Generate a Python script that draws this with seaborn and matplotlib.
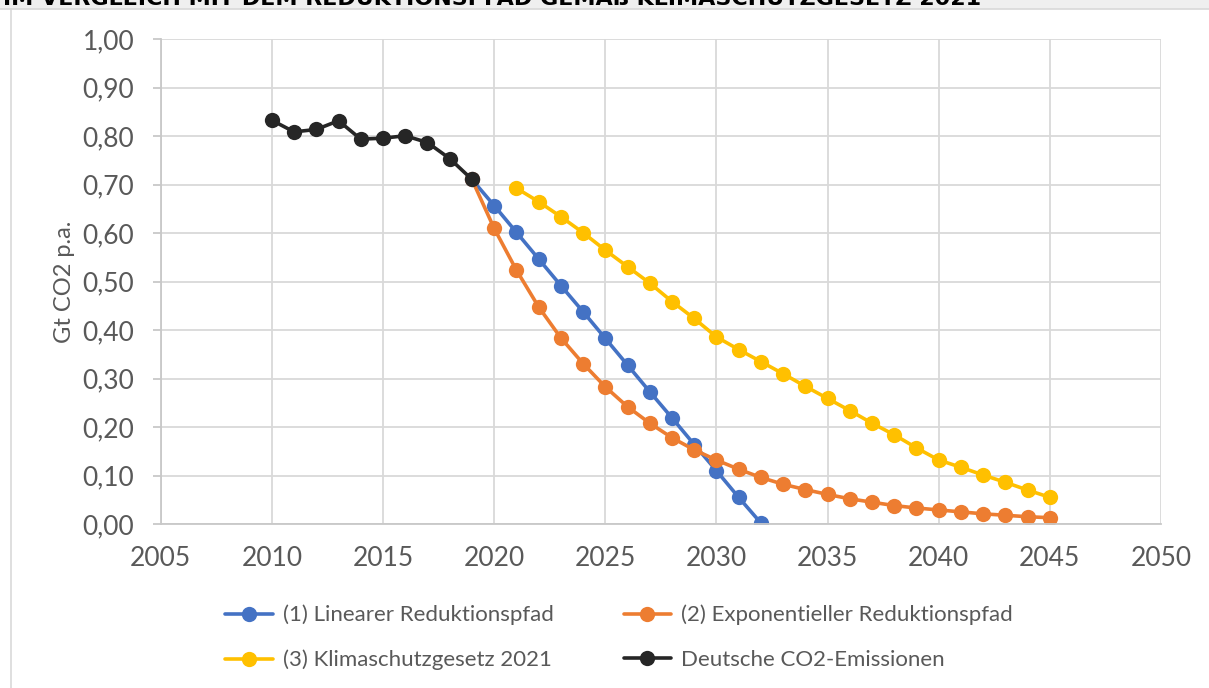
import numpy as np
import pandas as pd
import matplotlib
matplotlib.use("Agg")
import matplotlib.pyplot as plt
from matplotlib.lines import Line2D
from matplotlib.ticker import FuncFormatter, MultipleLocator
import seaborn as sns

# ==========================
# Data
# ==========================
years_hist = list(range(2010, 2020))
emissions_hist = [0.833, 0.809, 0.814, 0.832, 0.794, 0.796, 0.801, 0.787, 0.754, 0.711]

years_linear = list(range(2019, 2033))
linear_path = [0.711, 0.657, 0.602, 0.547, 0.492, 0.438, 0.383, 0.328,
               0.273, 0.219, 0.164, 0.110, 0.055, 0.002]

years_expo = list(range(2019, 2046))
expo_path = [0.711, 0.610, 0.524, 0.448, 0.384, 0.331, 0.283, 0.242, 0.208,
             0.178, 0.153, 0.132, 0.113, 0.096, 0.082, 0.071, 0.061, 0.052,
             0.045, 0.038, 0.033, 0.029, 0.025, 0.021, 0.018, 0.015, 0.013]

years_ksg = list(range(2021, 2046))
ksg_path = [0.693, 0.665, 0.634, 0.601, 0.565, 0.531, 0.497, 0.459, 0.424,
            0.386, 0.360, 0.335, 0.310, 0.284, 0.259, 0.234, 0.208, 0.184,
            0.157, 0.132, 0.117, 0.101, 0.086, 0.070, 0.055]

labels = ["(1) Linearer Reduktionspfad", "(2) Exponentieller Reduktionspfad",
          "(3) Klimaschutzgesetz 2021", "Deutsche CO2-Emissionen"]
colors = ["#4472C4", "#ED7D31", "#FFC000", "#262626"]

x_ticks = list(range(2005, 2051, 5))
header = "IM VERGLEICH MIT DEM REDUKTIONSPFAD GEMÄß KLIMASCHUTZGESETZ 2021"

# ==========================
# Plot
# ==========================
sns.set_style("white")
plt.rcParams["font.family"] = ["Lato", "DejaVu Sans"]
text_grey = "#595959"
grid_grey = "#d9d9d9"

fig = plt.figure(figsize=(12.09, 6.88), dpi=100)
ax = fig.add_axes([160.7 / 1209, 1 - 524 / 688, (1161 - 160.7) / 1209, (524 - 39.3) / 688])

series = [(years_linear, linear_path), (years_expo, expo_path),
          (years_ksg, ksg_path), (years_hist, emissions_hist)]
for (xs, ys), lab, col in zip(series, labels, colors):
    df = pd.DataFrame({"Jahr": xs, "Wert": ys})
    sns.lineplot(data=df, x="Jahr", y="Wert", ax=ax, color=col, marker="o",
                 markersize=11, markeredgewidth=0, linewidth=2.6, label=lab,
                 legend=False)

ax.set_xlim(2005, 2050)
ax.set_ylim(0, 1.0)
ax.set_xticks(x_ticks)
ax.yaxis.set_major_locator(MultipleLocator(0.1))
ax.yaxis.set_major_formatter(FuncFormatter(lambda v, p: f"{v:.2f}".replace(".", ",")))
ax.grid(True, color=grid_grey, linewidth=1.3)
ax.set_axisbelow(True)
for s in ["top", "right"]:
    ax.spines[s].set_visible(False)
for s in ["left", "bottom"]:
    ax.spines[s].set_color("#c8c8c8")
    ax.spines[s].set_linewidth(1.3)
ax.tick_params(axis="y", length=6, width=1.3, color="#c8c8c8", pad=13,
               labelsize=19, labelcolor=text_grey, left=True)
ax.tick_params(axis="x", length=0, pad=16, labelsize=19, labelcolor=text_grey)
ax.set_xlabel("")
ax.set_ylabel("Gt CO2 p.a.", fontsize=17, color=text_grey)
ax.yaxis.set_label_coords(-0.086, 0.5)

# legend below the plot, filled row by row like the original
order = [0, 2, 1, 3]
handles = [Line2D([0], [0], color=colors[i], marker="o", markersize=11,
                  markeredgewidth=0, linewidth=2.6) for i in order]
fig.legend(handles, [labels[i] for i in order], loc="center",
           bbox_to_anchor=(0.512, 0.0734), ncol=2, frameon=False, fontsize=16,
           labelcolor=text_grey, handlelength=2.15, handletextpad=0.45,
           columnspacing=3.15, labelspacing=1.1)

# header strip and chart frame (cut off like the screenshot)
fig.patches.append(plt.Rectangle((0, 1 - 8 / 688), 1, 8 / 688, transform=fig.transFigure,
                                 color="#efefef", zorder=0))
fig.text(3 / 1209, 1 - 5 / 688, header, fontsize=16, fontweight="bold",
         family="DejaVu Sans", color="black", va="baseline", ha="left")
fig.add_artist(Line2D([0, 1], [1 - 9 / 688] * 2, color=grid_grey, linewidth=1.2))
fig.add_artist(Line2D([11 / 1209] * 2, [0, 1 - 9 / 688], color=grid_grey, linewidth=1.2))

fig.savefig("out.png", dpi=100)
